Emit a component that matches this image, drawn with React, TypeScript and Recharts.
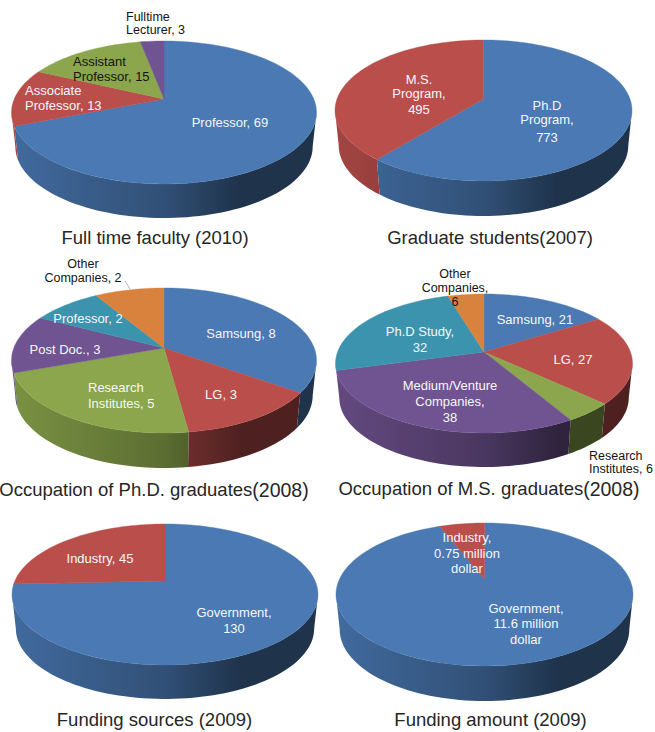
import { PieChart, Pie } from "recharts";

const BLUE = "#4a79b3";
const RED = "#b94e4b";
const GREEN = "#8ba64c";
const PURPLE = "#705391";
const TEAL = "#3c93ae";
const ORANGE = "#d9823e";

const facultyNames = ["Professor", "Associate Professor", "Assistant Professor", "Fulltime Lecturer"];
const facultyValues = [69, 13, 15, 3];
const facultyColors = [BLUE, RED, GREEN, PURPLE];
const facultyLabels = [["Professor, 69"], ["Associate", "Professor, 13"], ["Assistant", "Professor, 15"], ["Fulltime", "Lecturer, 3"]];

const studentNames = ["Ph.D Program", "M.S. Program"];
const studentValues = [773, 495];
const studentColors = [BLUE, RED];
const studentLabels = [["Ph.D", "Program,", "773"], ["M.S.", "Program,", "495"]];

const phdNames = ["Samsung", "LG", "Research Institutes", "Post Doc.", "Professor", "Other Companies"];
const phdValues = [8, 3, 5, 3, 2, 2];
const phdColors = [BLUE, RED, GREEN, PURPLE, TEAL, ORANGE];
const phdLabels = [["Samsung, 8"], ["LG, 3"], ["Research", "Institutes, 5"], ["Post Doc., 3"], ["Professor, 2"], ["Other", "Companies, 2"]];

const msNames = ["Samsung", "LG", "Research Institutes", "Medium/Venture Companies", "Ph.D Study", "Other Companies"];
const msValues = [21, 27, 6, 38, 32, 6];
const msColors = [BLUE, RED, GREEN, PURPLE, TEAL, ORANGE];
const msLabels = [["Samsung, 21"], ["LG, 27"], ["Research", "Institutes, 6"], ["Medium/Venture", "Companies,", "38"], ["Ph.D Study,", "32"], ["Other", "Companies,", "6"]];

const sourceNames = ["Government", "Industry"];
const sourceValues = [130, 45];
const sourceColors = [BLUE, RED];
const sourceLabels = [["Government,", "130"], ["Industry, 45"]];

const amountNames = ["Government", "Industry"];
const amountValues = [11.6, 0.75];
const amountColors = [BLUE, RED];
const amountLabels = [["Government,", "11.6 million", "dollar"], ["Industry,", "0.75 million", "dollar"]];

const WHITE = "#f5f7fb";
const INK = "#141414";

// where each slice's label sits: x, line baselines, anchor, colour, size
type LabelSpot = { x: number; ys: number[]; anchor?: "start" | "middle"; color?: string; size?: number };

const facultySpots: LabelSpot[] = [
  { x: 230, ys: [127] },
  { x: 25, ys: [95, 110], anchor: "start" },
  { x: 73, ys: [66, 81], anchor: "start", color: INK },
  { x: 126, ys: [21, 34], anchor: "start", color: INK, size: 12.5 },
];
const studentSpots: LabelSpot[] = [
  { x: 547, ys: [110, 124, 142] },
  { x: 419, ys: [84, 98, 114] },
];
const phdSpots: LabelSpot[] = [
  { x: 241, ys: [338] },
  { x: 221, ys: [399] },
  { x: 88, ys: [392, 408], anchor: "start" },
  { x: 65, ys: [354] },
  { x: 88, ys: [323] },
  { x: 83, ys: [268, 282], color: INK, size: 12.5 },
];
const msSpots: LabelSpot[] = [
  { x: 535, ys: [324] },
  { x: 573, ys: [364] },
  { x: 589, ys: [460, 473], anchor: "start", color: INK, size: 12.5 },
  { x: 450, ys: [390, 406, 422] },
  { x: 420, ys: [336, 352] },
  { x: 455, ys: [278, 292, 306], color: INK, size: 12.5 },
];
const sourceSpots: LabelSpot[] = [
  { x: 234, ys: [617, 633] },
  { x: 100, ys: [563] },
];
const amountSpots: LabelSpot[] = [
  { x: 526, ys: [613, 628, 644] },
  { x: 467, ys: [542, 558, 573] },
];

// apex of the slices, far and near edge of the top face, half width, wall height
const pies = [
  { title: "Full time faculty (2010)", titleTail: "", titleX: 155, titleY: 244, cx: 164, cy: 99, top: 41, front: 184, rx: 152.5, depth: 34, names: facultyNames, values: facultyValues, colors: facultyColors, labels: facultyLabels, spots: facultySpots },
  { title: "Graduate students(2007)", titleTail: "", titleX: 490, titleY: 244, cx: 483.5, cy: 99, top: 40, front: 181, rx: 148.5, depth: 35, names: studentNames, values: studentValues, colors: studentColors, labels: studentLabels, spots: studentSpots },
  { title: "Occupation of Ph.D. graduates", titleTail: "(2008)", titleX: 154, titleY: 496, cx: 164, cy: 348, top: 288, front: 433, rx: 152.5, depth: 35, names: phdNames, values: phdValues, colors: phdColors, labels: phdLabels, spots: phdSpots },
  { title: "Occupation of M.S. graduates", titleTail: "(2008)", titleX: 489, titleY: 495, cx: 484, cy: 352, top: 294, front: 433, rx: 148.5, depth: 34, names: msNames, values: msValues, colors: msColors, labels: msLabels, spots: msSpots },
  { title: "Funding sources (2009)", titleTail: "", titleX: 154.5, titleY: 726, cx: 165, cy: 581, top: 524, front: 665, rx: 153, depth: 34, names: sourceNames, values: sourceValues, colors: sourceColors, labels: sourceLabels, spots: sourceSpots },
  { title: "Funding amount (2009)", titleTail: "", titleX: 490.5, titleY: 726, cx: 484.5, cy: 579, top: 523, front: 666, rx: 148.5, depth: 35, names: amountNames, values: amountValues, colors: amountColors, labels: amountLabels, spots: amountSpots },
];

type PieGeom = (typeof pies)[number];

function shade(hex: string, f: number) {
  const n = parseInt(hex.slice(1), 16);
  const part = (s: number) => Math.round(((n >> s) & 255) * f);
  return `rgb(${part(16)},${part(8)},${part(0)})`;
}

// circle seen from above at an angle: the far side shrinks, so the apex sits off centre
function perspective(p: PieGeom) {
  const far = p.cy - p.top;
  const near = p.front - p.cy;
  const k = (near - far) / (near + far);
  const a = p.rx * Math.sqrt(1 - k * k);
  const b = far * (1 + k);
  const project = (deg: number) => {
    const t = (deg * Math.PI) / 180;
    const w = 1 + k * Math.sin(t);
    return [p.cx + (a * Math.cos(t)) / w, p.cy - (b * Math.sin(t)) / w];
  };
  return { k, project };
}

function sampleArc(from: number, to: number) {
  const steps = Math.max(2, Math.ceil(Math.abs(from - to) / 2));
  return Array.from({ length: steps + 1 }, (_, i) => from + ((to - from) * i) / steps);
}

function Slice(props: any) {
  const { geom, pieIndex, startAngle, endAngle, fill } = props;
  const { k, project } = perspective(geom);
  const rim = sampleArc(startAngle, endAngle).map(project);
  const topFace = `M${geom.cx},${geom.cy} L${rim.map((q) => q.join(",")).join(" L")} Z`;

  // only the stretch of rim nearest the viewer shows a wall
  const alpha = (Math.asin(k) * 180) / Math.PI;
  const from = Math.min(startAngle, -alpha);
  const to = Math.max(endAngle, -180 + alpha);
  let wall = "";
  if (from > to) {
    const upper = sampleArc(from, to).map(project);
    const lower = [...upper].reverse().map(([x, y]) => [geom.cx + (x - geom.cx) * 0.975, y + geom.depth]);
    wall = `M${[...upper, ...lower].map((q) => q.join(",")).join(" L")} Z`;
  }
  const gradId = `wall-${pieIndex}-${Math.round(startAngle)}`;

  return (
    <g>
      <linearGradient id={gradId} gradientUnits="userSpaceOnUse" x1={geom.cx - geom.rx} x2={geom.cx + geom.rx} y1={0} y2={0}>
        <stop offset="0" stopColor={shade(fill, 0.88)} />
        <stop offset="0.5" stopColor={shade(fill, 0.66)} />
        <stop offset="0.75" stopColor={shade(fill, 0.42)} />
        <stop offset="1" stopColor={shade(fill, 0.42)} />
      </linearGradient>
      {wall && <path d={wall} fill={`url(#${gradId})`} />}
      <path d={topFace} fill={fill} stroke={fill} strokeWidth={0.4} />
    </g>
  );
}

function SliceLabel({ lines, spot }: { lines: string[]; spot: LabelSpot }) {
  return (
    <text
      fontFamily="'Liberation Sans', Arial, sans-serif"
      fontSize={spot.size ?? 13}
      fill={spot.color ?? WHITE}
      textAnchor={spot.anchor ?? "middle"}
    >
      {lines.map((line, i) => (
        <tspan key={i} x={spot.x} y={spot.ys[i]}>
          {line}
        </tspan>
      ))}
    </text>
  );
}

export default function App() {
  return (
    <div style={{ position: "absolute", left: 0, top: 0, width: 655, height: 732 }}>
      <PieChart width={655} height={732} margin={{ top: 0, right: 0, bottom: 0, left: 0 }}>
        {pies.map((p, pieIndex) => (
          <Pie
            key={p.title}
            data={p.names.map((name, i) => ({ name, value: p.values[i], fill: p.colors[i] }))}
            dataKey="value"
            nameKey="name"
            cx={p.cx}
            cy={p.cy}
            outerRadius={p.rx}
            startAngle={90}
            endAngle={-270}
            stroke="none"
            isAnimationActive={false}
            labelLine={false}
            shape={(s: any) => <Slice {...s} geom={p} pieIndex={pieIndex} />}
            label={(l: any) => <SliceLabel lines={p.labels[l.index]} spot={p.spots[l.index]} />}
          />
        ))}
        {/* leader from the small Other Companies slice up to its label */}
        <line x1={125} y1={281} x2={130} y2={289} stroke="#b5b5b5" strokeWidth={1} />
        {pies.map((p) => (
          <text
            key={p.title}
            x={p.titleX}
            y={p.titleY}
            textAnchor="middle"
            fontFamily="'Liberation Sans', Arial, sans-serif"
            fontSize={18.5}
            fill="#262626"
          >
            {p.title}
            {p.titleTail && (
              <tspan dy={1} fontSize={19.5}>
                {p.titleTail}
              </tspan>
            )}
          </text>
        ))}
      </PieChart>
    </div>
  );
}
